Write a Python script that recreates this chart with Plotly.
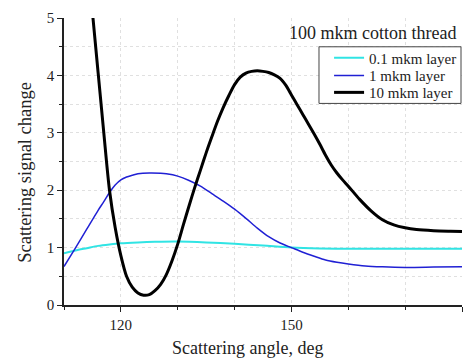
import plotly.graph_objects as go

# Data
x_thin = [110, 112, 114, 116, 118, 120, 123, 126, 130, 135, 140, 145, 150, 155, 160, 170, 180]
y_thin = [0.90, 0.95, 0.99, 1.03, 1.055, 1.075, 1.09, 1.10, 1.105, 1.09, 1.065, 1.035, 1.00,
          0.985, 0.98, 0.978, 0.978]

x_mid = [110, 112, 114, 116, 117, 118, 119, 120, 121, 122, 123, 125, 127, 128, 130, 132, 134,
         136, 138, 140, 142, 144, 146, 148, 150, 152, 154, 156, 158, 160, 163, 166, 170, 175, 180]
y_mid = [0.67, 0.99, 1.32, 1.65, 1.80, 1.96, 2.09, 2.18, 2.23, 2.26, 2.285, 2.30, 2.295, 2.285,
         2.245, 2.17, 2.07, 1.94, 1.81, 1.67, 1.51, 1.34, 1.19, 1.08, 1.00, 0.92, 0.85, 0.785,
         0.745, 0.715, 0.68, 0.665, 0.655, 0.66, 0.665]

x_thick = [114, 115, 116, 117, 118, 119, 120, 121, 122, 123, 124, 125, 126, 127, 128, 129, 130,
           131, 132, 133, 134, 135, 136, 137, 138, 139, 140, 141, 142, 143, 144, 145, 146, 147,
           148, 149, 150, 151, 152, 153, 154, 155, 156, 157, 158, 159, 160, 162, 164, 166, 168,
           170, 172, 175, 178, 180]
y_thick = [6.2, 5.1, 4.05, 3.0, 2.0, 1.35, 0.86, 0.50, 0.31, 0.21, 0.17, 0.18, 0.25, 0.36, 0.53,
           0.77, 1.06, 1.40, 1.73, 2.05, 2.35, 2.65, 2.93, 3.20, 3.44, 3.65, 3.84, 3.97, 4.04,
           4.07, 4.08, 4.07, 4.05, 4.01, 3.95, 3.83, 3.66, 3.49, 3.32, 3.15, 2.98, 2.80, 2.61,
           2.44, 2.30, 2.18, 2.07, 1.84, 1.64, 1.485, 1.395, 1.345, 1.315, 1.295, 1.285, 1.28]

names = ["0.1 mkm layer", "1 mkm layer", "10 mkm layer"]
colors = ["#30e4e4", "#2020d4", "#000000"]
widths = [2, 1.5, 3]
legend_ids = ["legend", "legend2", "legend3"]

x_ticks = [120, 150, 180]
x_grid = [120, 150]
y_ticks = [0, 1, 2, 3, 4, 5]
y_grid = [1, 2, 3, 4]

FONT = "Liberation Serif, Times New Roman, serif"
TXT = "#222"

fig = go.Figure()
for xs, ys, n, c, w, lg in zip([x_thin, x_mid, x_thick], [y_thin, y_mid, y_thick],
                               names, colors, widths, legend_ids):
    fig.add_trace(go.Scatter(x=xs, y=ys, mode="lines", name=n, legend=lg,
                             line=dict(color=c, width=w, shape="spline", smoothing=0.8,
                                       simplify=False)))

legend_common = dict(x=0.666, xanchor="left", yanchor="middle", borderwidth=0,
                     bgcolor="rgba(0,0,0,0)", font=dict(family=FONT, size=15, color=TXT))

fig.update_layout(
    width=472, height=358,
    margin=dict(l=64, r=10, t=16, b=53),
    paper_bgcolor="white", plot_bgcolor="white",
    font=dict(family=FONT, size=15, color=TXT),
    showlegend=True,
    legend=dict(y=0.861, **legend_common),
    legend2=dict(y=0.799, **legend_common),
    legend3=dict(y=0.740, **legend_common),
    shapes=[dict(type="rect", xref="paper", yref="paper",
                 x0=0.6407, x1=0.9975, y0=0.7024, y1=0.8997,
                 line=dict(color="#444", width=1), fillcolor="white", layer="above")],
    annotations=[
        dict(text="100 mkm cotton thread", xref="paper", yref="paper",
             x=0.99, y=0.948, xanchor="right", yanchor="middle", showarrow=False,
             font=dict(family=FONT, size=18, color=TXT)),
        dict(text="Scattering angle, deg", xref="paper", yref="paper",
             x=0.462, y=-0.107, xanchor="center", yanchor="top", showarrow=False,
             font=dict(family=FONT, size=18, color=TXT)),
        dict(text="Scattering signal change", xref="paper", yref="paper", textangle=-90,
             x=-0.098, y=0.464, xanchor="center", yanchor="middle", showarrow=False,
             font=dict(family=FONT, size=18.5, color=TXT)),
    ],
    # overlay axes that only carry the solid major grid (no grid at the plot edges)
    xaxis2=dict(overlaying="x", range=[110, 180], tickvals=x_grid, showticklabels=False,
                ticks="", showline=False, showgrid=True, gridcolor="#c8c8c8", gridwidth=1,
                zeroline=False, side="bottom"),
    yaxis2=dict(overlaying="y", range=[0, 5], tickvals=y_grid, showticklabels=False,
                ticks="", showline=False, showgrid=True, gridcolor="#c8c8c8", gridwidth=1,
                zeroline=False, side="left"),
)

fig.layout.xaxis.update(
    range=[110, 180], tickvals=x_ticks, ticks="outside", ticklen=5, tickcolor=TXT,
    showline=True, linecolor=TXT, linewidth=1.5,
    showgrid=False, zeroline=False,
    minor=dict(dtick=10, tick0=110, ticks="outside", ticklen=3, tickcolor=TXT,
               showgrid=True, gridcolor="#e0e0e0", griddash="dot"),
    tickfont=dict(family=FONT, size=15, color=TXT),
)
fig.layout.yaxis.update(
    range=[0, 5], tickvals=y_ticks, ticks="outside", ticklen=5, tickcolor=TXT,
    showline=True, linecolor=TXT, linewidth=1.5,
    showgrid=False, zeroline=False,
    minor=dict(dtick=0.5, ticks="outside", ticklen=3, tickcolor=TXT,
               showgrid=True, gridcolor="#e0e0e0", griddash="dot"),
    tickfont=dict(family=FONT, size=15, color=TXT),
)

fig.write_html("out.html", config={"displayModeBar": False},
               post_script="document.body.style.margin='0px';")
